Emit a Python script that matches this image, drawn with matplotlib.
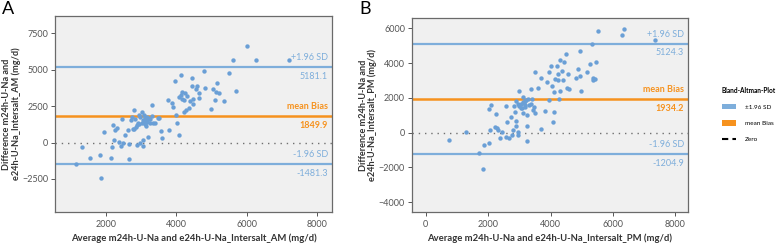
import numpy as np
import matplotlib
matplotlib.use("Agg")
from matplotlib import pyplot as plt
from matplotlib.patches import Patch
from matplotlib.lines import Line2D
import matplotlib.transforms as mtransforms

plt.rcParams['font.family'] = ['Lato', 'DejaVu Sans']

# Panel A: average vs difference (mg/d)
avg_am = [1137, 1317, 1545, 1829, 1867, 1943, 2142, 2180, 2208, 2227, 2256, 2322, 2360, 2417,
          2455, 2474, 2550, 2626, 2645, 2664, 2702, 2739, 2758, 2796, 2806, 2834, 2872, 2891,
          2929, 2948, 2967, 2976, 3014, 3024, 3043, 3062, 3081, 3100, 3119, 3138, 3157, 3176,
          3204, 3223, 3252, 3309, 3328, 3404, 3479, 3517, 3574, 3593, 3782, 3754, 3877, 3915,
          3972, 3991, 4029, 4067, 4076, 4161, 4143, 4161, 4208, 4275, 4256, 4303, 4351, 4389,
          4436, 4446, 4465, 4474, 4560, 4579, 4636, 4655, 4787, 4806, 4986, 5052, 5090, 5128,
          5166, 5204, 5346, 5488, 5612, 5697, 6020, 6257, 7214, 3050, 3150, 3200, 2900, 3250,
          3100, 2850, 3300, 4120, 4230]
diff_am = [-1489, -275, -1030, -847, -2404, 756, -1030, -320, 1214, 183, 870, 985, 23, -206,
           1649, 0, 504, 893, -1145, -92, 1557, 1740, 916, 2244, 939, 1603, 1214, -160,
           1900, 1282, 1740, -46, 2130, 1328, -206, 183, 1900, 1672, 1511, 1145, 1786, 1443,
           412, 1603, 1374, 2588, 1328, 1374, 1672, 1672, 802, 344, 870, 2931, 2725, 2473,
           4259, 1900, 1374, 550, 3160, 3023, 4671, 3458, 2931, 2244, 3435, 3206, 2359, 2885,
           3893, 4465, 2977, 2656, 3664, 3870, 3092, 3435, 4924, 3733, 2336, 3664, 2954, 3458,
           4099, 3412, 2885, 4809, 5679, 3550, 6641, 5702, 5679, 1550, 1450, 1700, 1350, 1600,
           1250, 1050, 1800, 3300, 2100]
mean_am, upper_am, lower_am = 1849.9, 5181.1, -1481.3

# Panel B
avg_pm = [741, 1281, 1714, 1820, 1852, 2011, 2032, 2053, 2095, 2222, 2243, 2286, 2317, 2370,
          2455, 2561, 2582, 2603, 2667, 2730, 2772, 2794, 2825, 2857, 2878, 2900, 2878, 2942,
          2984, 2963, 3047, 3068, 3111, 3132, 3175, 3196, 3238, 3259, 3280, 3301, 3238, 3365,
          3386, 3407, 3428, 3471, 3513, 3513, 3598, 3682, 3703, 3830, 3894, 3957, 3936, 4000,
          4042, 4084, 4106, 4127, 4148, 4211, 4233, 4254, 4275, 4296, 4317, 4360, 4402, 4444,
          4486, 4518, 4571, 4592, 4814, 4867, 4931, 4952, 4973, 5163, 5270, 5333, 5354, 5375,
          5418, 5460, 5523, 6285, 6370, 7353, 3120, 3180, 3220, 3000, 3080, 3150, 2950]
diff_pm = [-438, 57, -1143, -2076, -705, 1333, -610, 152, 1619, 343, 1067, 248, 152, -324,
           57, -267, 1524, 629, -324, 914, -133, 152, 1524, 1200, 1829, 686, 381, 57,
           2400, -133, 1638, 1390, 2057, 1105, 1581, 1829, 1010, -457, 1962, 1581, 381, 1676,
           2534, 1962, 1295, 1448, 1105, 3486, 2591, 3162, 190, 1238, 2896, 1905, 3486, 3810,
           2667, 610, 2324, 1200, 3086, 3829, 3048, 3391, 1962, 2400, 4152, 3543, 3010, 4057,
           4534, 2591, 3353, 2534, 3124, 3657, 4686, 3277, 2400, 3505, 3924, 5105, 3010, 3162,
           3086, 4057, 5867, 5638, 5981, 5334, 1750, 1500, 1850, 1550, 1400, 1700, 1650]
mean_pm, upper_pm, lower_pm = 1934.2, 5124.3, -1204.9

blue_line = "#7eaedb"
blue_dot = "#6a9fd6"
orange = "#f6921e"
bg = "#f0f0f0"

fig = plt.figure(figsize=(7.78, 2.45), dpi=100)
ax_a = fig.add_axes([0.0707, 0.1347, 0.356, 0.80])
ax_b = fig.add_axes([0.5296, 0.1347, 0.3548, 0.792])


def bland_altman(ax, avg, diff, mean, upper, lower, suffix, xlim, ylim, yticks, xticks):
    ax.set_facecolor(bg)
    ax.scatter(avg, diff, s=10, color=blue_dot, zorder=3, linewidths=0)
    ax.axhline(upper, color=blue_line, lw=1.6, zorder=2)
    ax.axhline(lower, color=blue_line, lw=1.6, zorder=2)
    ax.axhline(mean, color=orange, lw=1.8, zorder=2)
    ax.axhline(0, color="#707070", lw=1.0, ls=(0, (1, 3.5)), zorder=1)
    ax.set_xlim(*xlim)
    ax.set_ylim(*ylim)
    ax.set_xticks(xticks)
    ax.set_yticks(yticks)
    ax.tick_params(labelsize=6.5, colors="#555555", length=3, width=0.7)
    ax.tick_params(axis="x", pad=3)
    ax.tick_params(axis="y", pad=2)
    for s in ax.spines.values():
        s.set_color("#6a6a6a")
        s.set_linewidth(0.9)
    trans = mtransforms.blended_transform_factory(ax.transAxes, ax.transData)
    off = (ylim[1] - ylim[0]) * 0.025
    for val, lab, col in [(upper, "+1.96 SD", blue_line), (mean, "mean Bias", orange),
                          (lower, "-1.96 SD", blue_line)]:
        ax.text(0.985, val + off, lab, transform=trans, ha="right", va="bottom",
                fontsize=6.5, color=col, fontweight="bold" if col == orange else "normal")
        ax.text(0.985, val - off, f"{val:.1f}", transform=trans, ha="right", va="top",
                fontsize=6.5, color=col, fontweight="bold" if col == orange else "normal")
    ax.set_xlabel(f"Average m24h-U-Na and e24h-U-Na_Intersalt_{suffix} (mg/d)",
                  fontsize=6.8, fontweight="bold", color="#333333", labelpad=3)
    ax.set_ylabel(f"Difference m24h-U-Na and\ne24h-U-Na_Intersalt_{suffix} (mg/d)",
                  fontsize=6.6, fontweight="bold", color="#333333", labelpad=1,
                  linespacing=1.0)


bland_altman(ax_a, avg_am, diff_am, mean_am, upper_am, lower_am, "AM",
             (553, 8425), (-4766, 8690), [-2500, 0, 2500, 5000, 7500], [2000, 4000, 6000, 8000])
bland_altman(ax_b, avg_pm, diff_pm, mean_pm, upper_pm, lower_pm, "PM",
             (-444, 8413), (-4557, 6592), [-4000, -2000, 0, 2000, 4000, 6000],
             [0, 2000, 4000, 6000, 8000])

fig.text(0.003, 0.965, "A", fontsize=13, va="center", ha="left")
fig.text(0.462, 0.965, "B", fontsize=13, va="center", ha="left")

handles = [Patch(facecolor=blue_line, edgecolor="none", label="±1.96 SD"),
           Patch(facecolor=orange, edgecolor="none", label="mean Bias"),
           Line2D([0], [0], color="black", lw=1.5, ls=(0, (3, 2)), label="Zero")]
leg = fig.legend(handles=handles, loc="upper left", bbox_to_anchor=(0.928, 0.645),
                 frameon=False, fontsize=4.6, title="Bland-Altman-Plot",
                 title_fontproperties={"size": 4.7, "weight": "bold"},
                 handlelength=2.2, handleheight=0.9, labelspacing=1.6, alignment="left",
                 borderaxespad=0, borderpad=0, handletextpad=1.4)

fig.savefig("out.png", dpi=100, facecolor="white")
